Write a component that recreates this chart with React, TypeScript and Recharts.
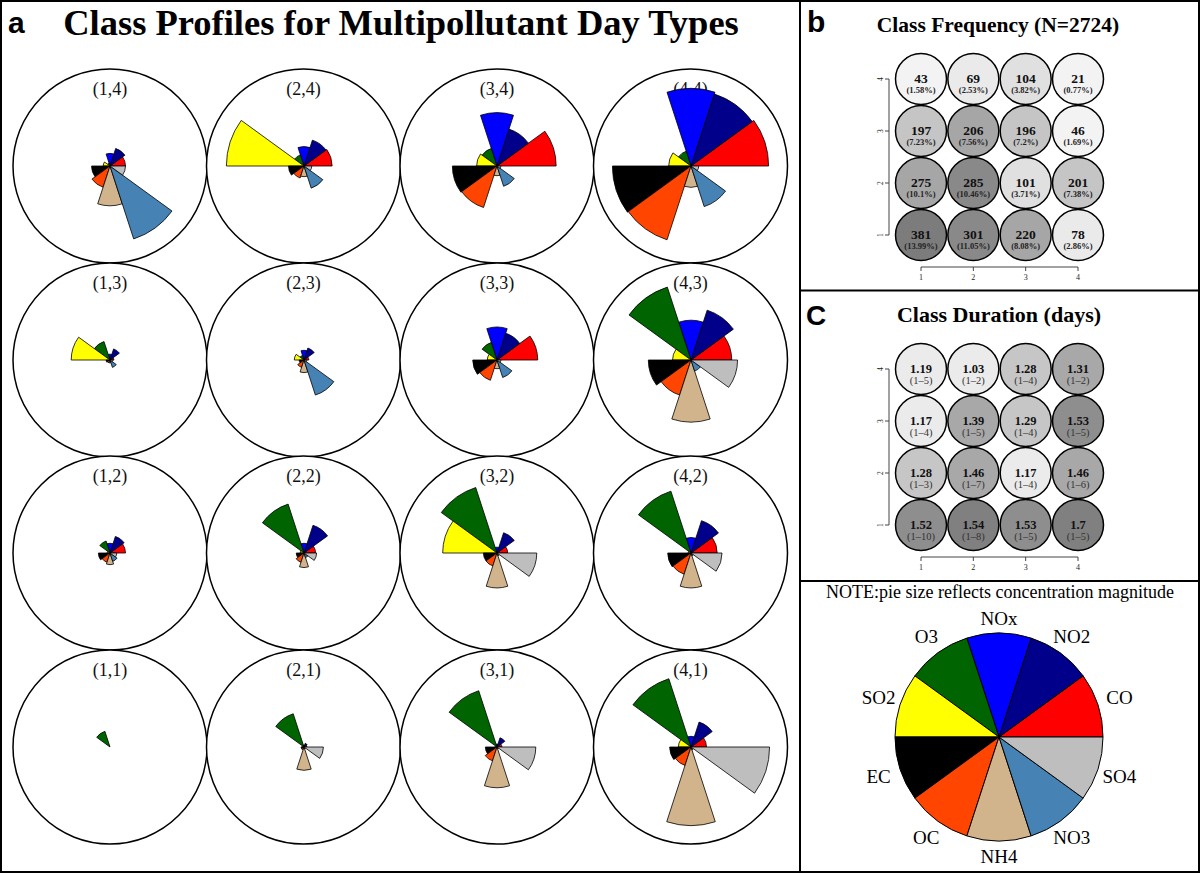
import React from "react";
import {
  RadialBarChart,
  RadialBar,
  PolarAngleAxis,
  PolarRadiusAxis,
  Cell,
  ScatterChart,
  Scatter,
  XAxis,
  YAxis,
  PieChart,
  Pie,
} from "recharts";

const SERIF = '"Liberation Serif", "Times New Roman", serif';
const SANS = '"Liberation Sans", Arial, sans-serif';

// sector order, counter-clockwise from 3 o'clock
const POLLUTANTS = ["CO", "NO2", "NOx", "O3", "SO2", "EC", "OC", "NH4", "NO3", "SO4"];
const COLORS = [
  "#FF0000",
  "#00008B",
  "#0000FF",
  "#006400",
  "#FFFF00",
  "#000000",
  "#FF4500",
  "#D2B48C",
  "#4682B4",
  "#BEBEBE",
];
const LEGEND_WEIGHTS = [1, 1, 1, 1, 1, 1, 1, 1, 1, 1];

// relative concentration magnitude (fraction of circle radius), POLLUTANTS order
const PROFILE_1_4 = [0.16, 0.19, 0.13, 0.03, 0.07, 0.19, 0.23, 0.41, 0.79, 0.16];
const PROFILE_2_4 = [0.29, 0.28, 0.2, 0.12, 0.8, 0.16, 0.13, 0.11, 0.24, 0.08];
const PROFILE_3_4 = [0.61, 0.4, 0.55, 0.19, 0.21, 0.46, 0.45, 0.1, 0.22, 0.04];
const PROFILE_4_4 = [0.8, 0.78, 0.8, 0.16, 0.23, 0.81, 0.8, 0.22, 0.44, 0.08];
const PROFILE_1_3 = [0.04, 0.12, 0.06, 0.2, 0.4, 0.04, 0.03, 0.03, 0.08, 0.03];
const PROFILE_2_3 = [0.05, 0.13, 0.1, 0.05, 0.1, 0.05, 0.08, 0.13, 0.38, 0.03];
const PROFILE_3_3 = [0.42, 0.29, 0.34, 0.19, 0.1, 0.25, 0.22, 0.09, 0.19, 0.04];
const PROFILE_4_3 = [0.42, 0.54, 0.41, 0.79, 0.19, 0.44, 0.38, 0.64, 0.12, 0.48];
const PROFILE_1_2 = [0.16, 0.18, 0.1, 0.13, 0.03, 0.12, 0.1, 0.12, 0.09, 0.07];
const PROFILE_2_2 = [0.12, 0.3, 0.1, 0.53, 0.04, 0.08, 0.1, 0.15, 0.05, 0.13];
const PROFILE_3_2 = [0.11, 0.22, 0.06, 0.71, 0.56, 0.14, 0.14, 0.36, 0.03, 0.41];
const PROFILE_4_2 = [0.27, 0.35, 0.16, 0.67, 0.03, 0.24, 0.23, 0.36, 0.03, 0.32];
const PROFILE_1_1 = [0, 0, 0, 0.17, 0, 0, 0, 0, 0, 0];
const PROFILE_2_1 = [0.03, 0.04, 0.02, 0.36, 0.02, 0.03, 0.03, 0.24, 0.02, 0.2];
const PROFILE_3_1 = [0.05, 0.1, 0.03, 0.61, 0.02, 0.12, 0.15, 0.42, 0.02, 0.4];
const PROFILE_4_1 = [0.16, 0.27, 0.11, 0.74, 0.13, 0.22, 0.2, 0.81, 0.03, 0.81];

const PROFILE_ROWS = [
  [PROFILE_1_4, PROFILE_2_4, PROFILE_3_4, PROFILE_4_4],
  [PROFILE_1_3, PROFILE_2_3, PROFILE_3_3, PROFILE_4_3],
  [PROFILE_1_2, PROFILE_2_2, PROFILE_3_2, PROFILE_4_2],
  [PROFILE_1_1, PROFILE_2_1, PROFILE_3_1, PROFILE_4_1],
];

const CLASS_LEVELS = [1, 2, 3, 4];
const ROW_LEVELS = [4, 3, 2, 1];

// class frequency, rows from y=4 down to y=1, columns x=1..4
const FREQ_COUNT = [
  [43, 69, 104, 21],
  [197, 206, 196, 46],
  [275, 285, 101, 201],
  [381, 301, 220, 78],
];
const FREQ_PCT = [
  [1.58, 2.53, 3.82, 0.77],
  [7.23, 7.56, 7.2, 1.69],
  [10.1, 10.46, 3.71, 7.38],
  [13.99, 11.05, 8.08, 2.86],
];

// class duration (days): mean and min/max run length
const DUR_MEAN = [
  [1.19, 1.03, 1.28, 1.31],
  [1.17, 1.39, 1.29, 1.53],
  [1.28, 1.46, 1.17, 1.46],
  [1.52, 1.54, 1.53, 1.7],
];
const DUR_MIN = [
  [1, 1, 1, 1],
  [1, 1, 1, 1],
  [1, 1, 1, 1],
  [1, 1, 1, 1],
];
const DUR_MAX = [
  [5, 2, 4, 2],
  [4, 5, 4, 5],
  [3, 7, 4, 6],
  [10, 8, 5, 5],
];

const ROSE_CX = [110, 303.5, 497, 690.5];
const ROSE_CY = [166, 360, 553, 747];
const ROSE_R = 97;

function freqShade(n: number) {
  if (n < 60) return "#F3F3F3";
  if (n < 100) return "#EAEAEA";
  if (n < 150) return "#E0E0E0";
  if (n < 203) return "#C5C5C5";
  if (n < 280) return "#A6A6A6";
  if (n < 350) return "#898989";
  return "#7C7C7C";
}

function durShade(d: number) {
  if (d < 1.2) return "#EBEBEB";
  if (d < 1.3) return "#C6C6C6";
  if (d < 1.5) return "#A8A8A8";
  if (d < 1.54) return "#8E8E8E";
  return "#808080";
}

function Rose({ values }: { values: number[] }) {
  const data = POLLUTANTS.map((name, i) => ({ name, value: values[i] }));
  return (
    <RadialBarChart
      width={ROSE_R * 2}
      height={ROSE_R * 2}
      cx={ROSE_R}
      cy={ROSE_R}
      innerRadius={0}
      outerRadius={ROSE_R}
      startAngle={36}
      endAngle={396}
      layout="centric"
      barCategoryGap={0}
      data={data}
      margin={{ top: 0, right: 0, bottom: 0, left: 0 }}
    >
      <PolarAngleAxis type="category" dataKey="name" tick={false} axisLine={false} tickLine={false} />
      <PolarRadiusAxis type="number" domain={[0, 1]} tick={false} axisLine={false} tickLine={false} />
      <RadialBar dataKey="value" isAnimationActive={false} stroke="#000" strokeWidth={0.8}>
        {data.map((d, i) => (
          <Cell key={d.name} fill={COLORS[i]} />
        ))}
      </RadialBar>
    </RadialBarChart>
  );
}

const SideTick = (props: any) => {
  const { x, y, payload } = props;
  return (
    <text
      x={x}
      y={y}
      transform={`rotate(-90 ${x} ${y})`}
      textAnchor="middle"
      fontFamily={SERIF}
      fontSize={7.5}
      fill="#222"
    >
      {payload.value}
    </text>
  );
};

const FreqCell = (props: any) => {
  const { cx, cy, payload } = props;
  return (
    <g>
      <circle cx={cx} cy={cy} r={25.5} fill={freqShade(payload.count)} stroke="#000" strokeWidth={1.5} />
      <text x={cx} y={cy + 4.3} textAnchor="middle" fontFamily={SERIF} fontWeight="bold" fontSize={13.5} fill="#111">
        {payload.count}
      </text>
      <text x={cx} y={cy + 13.5} textAnchor="middle" fontFamily={SERIF} fontWeight="bold" fontSize={8.5} fill="#222">
        ({payload.pct}%)
      </text>
    </g>
  );
};

const DurCell = (props: any) => {
  const { cx, cy, payload } = props;
  return (
    <g>
      <circle cx={cx} cy={cy} r={25.5} fill={durShade(payload.mean)} stroke="#000" strokeWidth={1.5} />
      <text x={cx} y={cy + 4.3} textAnchor="middle" fontFamily={SERIF} fontWeight="bold" fontSize={12.5} fill="#111">
        {payload.mean}
      </text>
      <text x={cx} y={cy + 15} textAnchor="middle" fontFamily={SERIF} fontSize={10.5} fill="#333">
        ({payload.min}–{payload.max})
      </text>
    </g>
  );
};

function GridPanel({ data, shape }: { data: any[]; shape: any }) {
  return (
    <ScatterChart width={400} height={290} margin={{ top: 79, right: 122, bottom: 3, left: 69 }}>
      <XAxis
        type="number"
        dataKey="x"
        domain={[1, 4]}
        ticks={CLASS_LEVELS}
        interval={0}
        padding={{ left: 32, right: 0 }}
        height={20}
        tickSize={4}
        tickMargin={3}
        axisLine={{ stroke: "#444", strokeDasharray: "0 32 1000" }}
        tickLine={{ stroke: "#444" }}
        tick={{ fontSize: 8, fontFamily: SERIF, fill: "#222" }}
      />
      <YAxis
        type="number"
        dataKey="y"
        domain={[1, 4]}
        ticks={CLASS_LEVELS}
        interval={0}
        padding={{ top: 0, bottom: 32 }}
        width={20}
        tickSize={4}
        tickMargin={2}
        axisLine={{ stroke: "#444", strokeDasharray: "156 1000" }}
        tickLine={{ stroke: "#444" }}
        tick={<SideTick />}
      />
      <Scatter data={data} shape={shape} isAnimationActive={false} />
    </ScatterChart>
  );
}

const legendLabel = (props: any) => {
  const { cx, cy, midAngle, outerRadius } = props;
  const name = props.name ?? props.payload?.name;
  const rad = (-midAngle * Math.PI) / 180;
  const r = outerRadius + 15 + 8 * Math.abs(Math.cos(rad));
  return (
    <text
      x={cx + r * Math.cos(rad)}
      y={cy + r * Math.sin(rad)}
      textAnchor="middle"
      dominantBaseline="central"
      fontFamily={SERIF}
      fontSize={19}
      fill="#000"
    >
      {name}
    </text>
  );
};

export default function App() {
  const freqData = ROW_LEVELS.flatMap((y, r) =>
    CLASS_LEVELS.map((x, c) => ({ x, y, count: FREQ_COUNT[r][c], pct: FREQ_PCT[r][c] }))
  );
  const durData = ROW_LEVELS.flatMap((y, r) =>
    CLASS_LEVELS.map((x, c) => ({
      x,
      y,
      mean: DUR_MEAN[r][c],
      min: DUR_MIN[r][c],
      max: DUR_MAX[r][c],
    }))
  );
  const legendData = POLLUTANTS.map((name, i) => ({ name, share: LEGEND_WEIGHTS[i] }));

  return (
    <div style={{ position: "absolute", left: 0, top: 0, width: 1200, height: 873, background: "#fff" }}>
      <svg width={1200} height={873} style={{ position: "absolute", left: 0, top: 0 }}>
        <rect x={1} y={1} width={1198} height={871} fill="#fff" stroke="#000" strokeWidth={2} />
        <line x1={800} y1={0} x2={800} y2={873} stroke="#000" strokeWidth={2} />
        <line x1={800} y1={290.5} x2={1200} y2={290.5} stroke="#000" strokeWidth={2} />
        <line x1={800} y1={581} x2={1200} y2={581} stroke="#000" strokeWidth={2} />

        <text x={8} y={33} fontFamily={SANS} fontWeight="bold" fontSize={30}>
          a
        </text>
        <text x={401} y={35} textAnchor="middle" fontFamily={SERIF} fontWeight="bold" fontSize={36.5}>
          Class Profiles for Multipollutant Day Types
        </text>
        <text x={807} y={32} fontFamily={SANS} fontWeight="bold" fontSize={30}>
          b
        </text>
        <text x={998} y={32} textAnchor="middle" fontFamily={SERIF} fontWeight="bold" fontSize={21.5}>
          Class Frequency (N=2724)
        </text>
        <text x={806} y={325} fontFamily={SANS} fontWeight="bold" fontSize={28}>
          C
        </text>
        <text x={999} y={322} textAnchor="middle" fontFamily={SERIF} fontWeight="bold" fontSize={22}>
          Class Duration (days)
        </text>
        <text x={1000} y={598} textAnchor="middle" fontFamily={SERIF} fontSize={18}>
          NOTE:pie size reflects concentration magnitude
        </text>

        {ROW_LEVELS.map((y, r) =>
          CLASS_LEVELS.map((x, c) => (
            <g key={`c-${x}-${y}`}>
              <circle cx={ROSE_CX[c]} cy={ROSE_CY[r]} r={ROSE_R} fill="#fff" stroke="#000" strokeWidth={1.5} />
              <text
                x={ROSE_CX[c]}
                y={ROSE_CY[r] - 71}
                textAnchor="middle"
                fontFamily={SERIF}
                fontSize={18}
                fill="#111"
              >
                ({x},{y})
              </text>
            </g>
          ))
        )}
      </svg>

      {ROW_LEVELS.map((y, r) =>
        CLASS_LEVELS.map((x, c) => (
          <div
            key={`r-${x}-${y}`}
            style={{ position: "absolute", left: ROSE_CX[c] - ROSE_R, top: ROSE_CY[r] - ROSE_R }}
          >
            <Rose values={PROFILE_ROWS[r][c]} />
          </div>
        ))
      )}

      <div style={{ position: "absolute", left: 800, top: 0 }}>
        <GridPanel data={freqData} shape={FreqCell} />
      </div>
      <div style={{ position: "absolute", left: 800, top: 290 }}>
        <GridPanel data={durData} shape={DurCell} />
      </div>

      <div style={{ position: "absolute", left: 800, top: 581 }}>
        <PieChart width={400} height={292} margin={{ top: 0, right: 0, bottom: 0, left: 0 }}>
          <Pie
            data={legendData}
            dataKey="share"
            nameKey="name"
            cx={199}
            cy={156}
            outerRadius={104}
            startAngle={0}
            endAngle={360}
            stroke="#000"
            strokeWidth={1}
            labelLine={false}
            label={legendLabel}
            isAnimationActive={false}
          >
            {legendData.map((d, i) => (
              <Cell key={d.name} fill={COLORS[i]} />
            ))}
          </Pie>
        </PieChart>
      </div>
    </div>
  );
}
